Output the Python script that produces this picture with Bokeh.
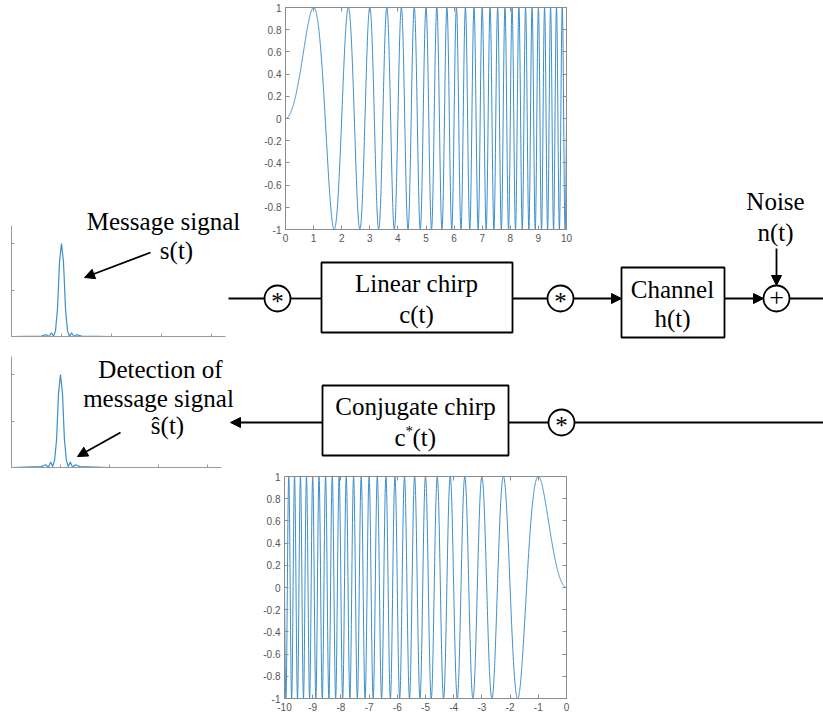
import numpy as np
from bokeh.plotting import figure
from bokeh.models import Range1d, LinearAxis, FixedTicker, Arrow, NormalHead
from bokeh.core.properties import value
from bokeh.embed import file_html
from bokeh.resources import INLINE

# ---------------------------------------------------------------- data
# Linear chirp c(t) = sin(pi * rate * t^2); first peak at t = 1, first trough at t = sqrt(3)
chirp_rate = 0.5
t_fwd = np.linspace(0, 10, 2001)
c_fwd = np.sin(np.pi * chirp_rate * t_fwd ** 2)
# Conjugate (time-reversed) chirp on -10..0
t_rev = np.linspace(-10, 0, 2001)
c_rev = np.sin(np.pi * chirp_rate * t_rev ** 2)

fwd_ticks = [0, 1, 2, 3, 4, 5, 6, 7, 8, 9, 10]
fwd_labels = ["0", "1", "2", "3", "4", "5", "6", "7", "8", "9", "10"]
rev_ticks = [-10, -9, -8, -7, -6, -5, -4, -3, -2, -1, 0]
rev_labels = ["-10", "-9", "-8", "-7", "-6", "-5", "-4", "-3", "-2", "-1", "0"]
amp_ticks = [-1, -0.8, -0.6, -0.4, -0.2, 0, 0.2, 0.4, 0.6, 0.8, 1]
amp_labels = ["-1", "-0.8", "-0.6", "-0.4", "-0.2", "0", "0.2", "0.4", "0.6", "0.8", "1"]

# Message pulse s(t) and its detected version
msg_t = [0, 0.6, 0.7, 0.75, 0.8, 0.84, 0.88, 0.92, 0.96, 1.0, 1.04, 1.08, 1.12, 1.16, 1.2, 1.25, 1.3, 1.4, 2.0]
msg_s = [0, 0.005, 0.02, 0.0, 0.04, 0.0, 0.06, 0.3, 0.8, 1.0, 0.8, 0.3, 0.06, 0.0, 0.04, 0.0, 0.02, 0.005, 0]
det_t = [0, 0.6, 0.7, 0.75, 0.8, 0.84, 0.88, 0.92, 0.96, 1.0, 1.04, 1.08, 1.12, 1.16, 1.2, 1.25, 1.3, 1.4, 2.0]
det_s = [0, 0.01, 0.03, 0.0, 0.06, 0.01, 0.08, 0.3, 0.8, 1.0, 0.8, 0.3, 0.08, 0.01, 0.06, 0.0, 0.03, 0.01, 0]
pulse_ticks_x = [1, 2, 3, 4]
pulse_ticks_y = [0.5, 1]

W, H = 823, 714
BLUE = "#3d8ecb"
AX = "#8c8c8c"
SERIF = value("Liberation Serif")
FS = "25px"

p = figure(width=W, height=H, x_range=Range1d(0, W), y_range=Range1d(H, 0),
           min_border=0, outline_line_color=None, toolbar_location=None,
           output_backend="svg", x_axis_location=None, y_axis_location=None)
p.background_fill_color = "white"
p.border_fill_color = "white"
p.grid.grid_line_color = None
p.xgrid.visible = False
p.ygrid.visible = False


def xr(px0, px1, v0, v1):
    k = (v1 - v0) / (px1 - px0)
    s = v0 - px0 * k
    return Range1d(s, s + W * k)


def yr(py0, py1, v0, v1):
    k = (v0 - v1) / (py1 - py0)
    s = v0 - (H - py0) * k
    return Range1d(s, s + H * k)


p.extra_x_ranges = {
    "cx": xr(285, 566, 0, 10),
    "rx": xr(284, 566, -10, 0),
    "mx": xr(11, 61, 0, 1),
    "dx": xr(11, 60, 0, 1),
}
p.extra_y_ranges = {
    "cy": yr(7, 229, 1, -1),
    "ry": yr(476, 698, 1, -1),
    "my": yr(336, 243, 0, 1),
    "dy": yr(467, 374, 0, 1),
}


def add_axis(side, xn, yn, loc, bounds, ticks, labels, tick_in, color, show_labels):
    ax = LinearAxis(x_range_name=xn, y_range_name=yn, fixed_location=loc,
                    bounds=bounds, ticker=FixedTicker(ticks=ticks))
    ax.major_label_overrides = {t: (l if show_labels else "") for t, l in zip(ticks, labels)}
    ax.axis_line_color = color
    ax.axis_line_width = 1
    ax.major_tick_line_color = color
    ax.major_tick_in = tick_in
    ax.major_tick_out = 0
    ax.minor_tick_line_color = None
    ax.major_label_standoff = 4
    ax.major_label_text_font = "Liberation Sans"
    ax.major_label_text_font_size = "10px"
    ax.major_label_text_color = "#555555"
    p.add_layout(ax, side)


def chirp_panel(xn, yn, xticks, xlabels, t, c):
    x0, x1 = xticks[0], xticks[-1]
    add_axis("below", xn, yn, -1, (x0, x1), xticks, xlabels, 4, AX, True)
    add_axis("above", xn, yn, 1, (x0, x1), xticks, xlabels, 4, AX, False)
    add_axis("left", xn, yn, x0, (-1, 1), amp_ticks, amp_labels, 4, AX, True)
    add_axis("right", xn, yn, x1, (-1, 1), amp_ticks, amp_labels, 4, AX, False)
    p.line(t, c, x_range_name=xn, y_range_name=yn, line_color=BLUE, line_width=1)


chirp_panel("cx", "cy", fwd_ticks, fwd_labels, t_fwd, c_fwd)
chirp_panel("rx", "ry", rev_ticks, rev_labels, t_rev, c_rev)


def pulse_panel(xn, yn, t, s):
    add_axis("below", xn, yn, 0, (0, 4.28), pulse_ticks_x, ["1", "2", "3", "4"], 3, "#9a9a9a", False)
    add_axis("left", xn, yn, 0, (0, 1.19), pulse_ticks_y, ["0.5", "1"], 3, "#9a9a9a", False)
    p.line(t, s, x_range_name=xn, y_range_name=yn, line_color=BLUE, line_width=1.2)


pulse_panel("mx", "my", msg_t, msg_s)
pulse_panel("dx", "dy", det_t, det_s)

# ---------------------------------------------------------------- block diagram
LW = 1.8
K = "black"

# transmit path
p.segment(x0=[228, 290, 512, 789], y0=[298] * 4, x1=[264, 321, 547, 823], y1=[298] * 4,
          line_color=K, line_width=LW)
# receive path
p.segment(x0=[823, 548], y0=[422, 422], x1=[574, 508], y1=[422, 422],
          line_color=K, line_width=LW)

# blocks
p.quad(left=[321, 621, 322], right=[512, 724, 508], top=[262, 267, 385], bottom=[332, 337, 455],
       fill_color="white", line_color=K, line_width=LW)

# arrows
for xs, ys, xe, ye in [(573, 298, 621, 298), (724, 298, 763, 298), (776, 248, 776, 285),
                       (322, 422, 230, 422), (150, 252, 84, 277), (120, 432, 77, 456)]:
    p.add_layout(Arrow(end=NormalHead(size=10, fill_color=K, line_color=K, line_width=1),
                       x_start=xs, y_start=ys, x_end=xe, y_end=ye,
                       line_color=K, line_width=LW))

# mixers / adder
p.circle(x=[277, 560, 776, 561], y=[298, 298, 298, 422], radius=13,
         fill_color="white", line_color=K, line_width=LW)
p.text(x=[277, 560, 561], y=[301, 301, 425], text=["*", "*", "*"], text_font=SERIF,
       text_font_size="25px", text_align="center", text_baseline="middle", text_color=K)
p.text(x=[776], y=[297], text=["+"], text_font=SERIF, text_font_size="26px",
       text_align="center", text_baseline="middle", text_color=K)

# labels
labels = [
    ("Message signal", 163, 221), ("s(t)", 176, 250),
    ("Detection of", 160, 369), ("message signal", 158, 398), ("ŝ(t)", 167, 425),
    ("Linear chirp", 416, 283), ("c(t)", 416, 314),
    ("Channel", 672, 289), ("h(t)", 672, 318),
    ("Noise", 775, 201), ("n(t)", 775, 232),
    ("Conjugate chirp", 415, 406),
]
p.text(x=[l[1] for l in labels], y=[l[2] for l in labels], text=[l[0] for l in labels],
       text_font=SERIF, text_font_size=FS, text_align="center", text_baseline="middle",
       text_color=K)
# c*(t) with a raised asterisk
p.text(x=[405], y=[437], text=["c"], text_font=SERIF, text_font_size=FS,
       text_align="right", text_baseline="middle", text_color=K)
p.text(x=[405], y=[430], text=["*"], text_font=SERIF, text_font_size="15px",
       text_align="left", text_baseline="middle", text_color=K)
p.text(x=[412], y=[437], text=["(t)"], text_font=SERIF, text_font_size=FS,
       text_align="left", text_baseline="middle", text_color=K)

open("out.html", "w").write(file_html(p, INLINE))
